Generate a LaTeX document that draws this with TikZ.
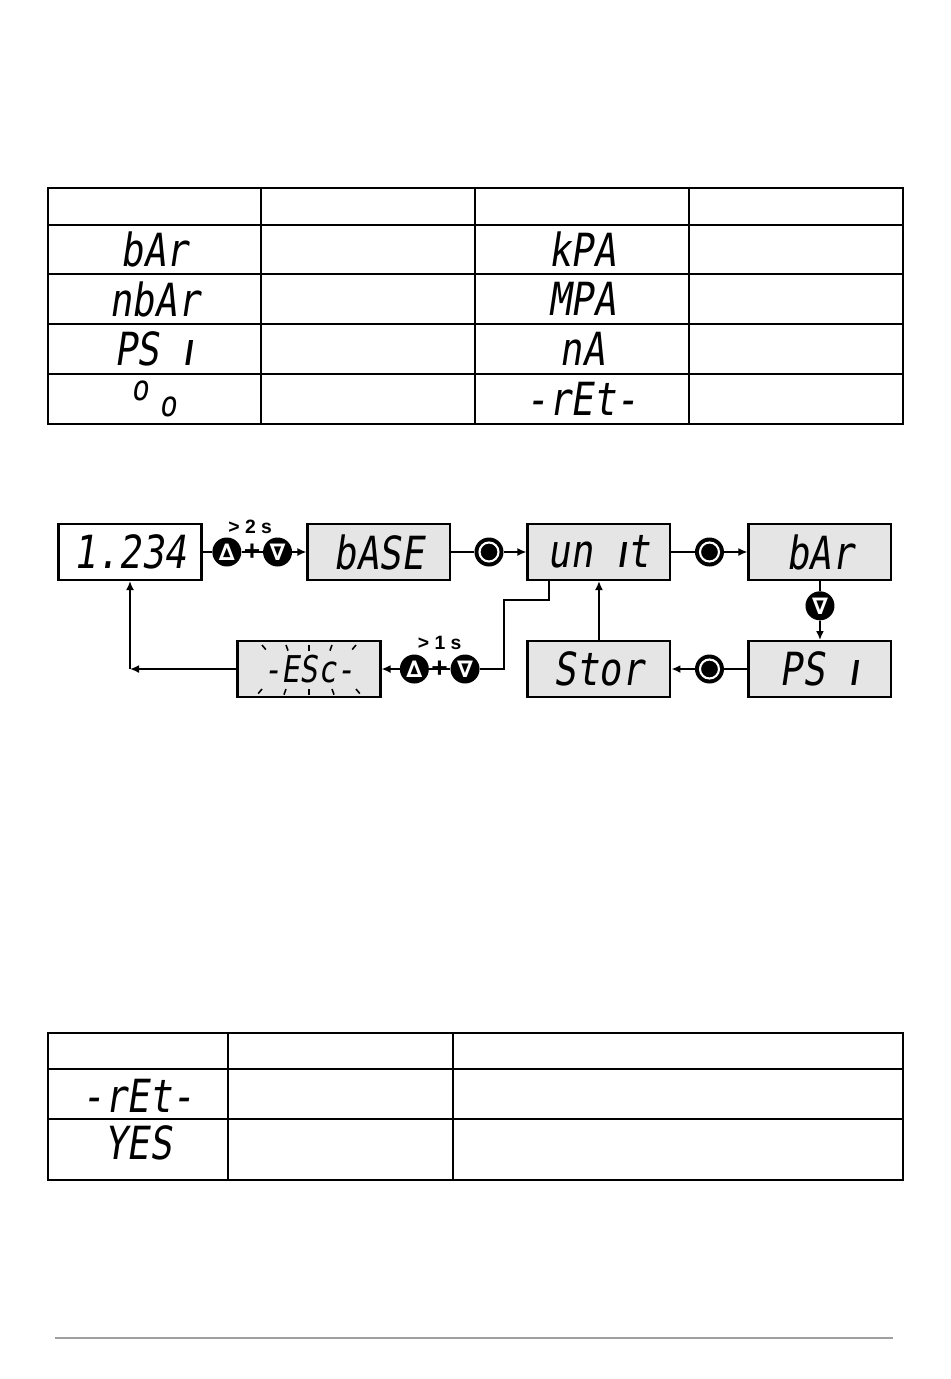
\documentclass[tikz,border=0pt]{standalone}
\usepackage{fontspec}
\usepackage{xcolor}
\usetikzlibrary{arrows.meta,calc,positioning}
\newfontfamily\segfont{DejaVu Sans Mono}[FakeStretch=0.82,FakeSlant=0.15]
\newfontfamily\segsans{DejaVu Sans}[FakeSlant=0.15]
\newfontfamily\labfont{Liberation Sans}
\newfontfamily\keyfont{DejaVu Sans}
\newcommand{\segi}{{\segsans ı}}
\definecolor{lcdgray}{RGB}{229,229,229}
\definecolor{rulegray}{RGB}{160,160,160}

\begin{document}
\begin{tikzpicture}[
      x=0.02cm, y=-0.02cm,
      lcd/.style={draw=black, line width=1.3pt, fill=lcdgray, minimum width=2.855cm, minimum height=1.115cm, inner sep=0pt, font=\segfont\fontsize{26}{28}\selectfont},
      seg/.style={inner sep=0pt, font=\segfont\fontsize{26}{28}\selectfont},
      btn/.style={circle, fill=black, minimum size=0.58cm, inner sep=0pt, text=white, font=\keyfont\bfseries\fontsize{13}{13}\selectfont},
      okbtn/.style={btn, path picture={\draw[white, line width=1.2pt] (path picture bounding box.center) circle (0.19cm);}},
      plus/.style={inner sep=0pt, font=\labfont\bfseries\fontsize{16}{16}\selectfont},
      holdlbl/.style={inner sep=0pt, font=\labfont\bfseries\fontsize{11}{11}\selectfont},
      arrow/.style={line width=1pt, -{Latex[length=1.8mm,width=1.6mm]}},
      link/.style={line width=1pt},
      tabline/.style={line width=0.9pt},
      ray/.style={line width=0.9pt}
      ]
      \useasboundingbox (0,0) rectangle (950,1379);

      % Unit table
      \draw[tabline] (48,188) rectangle (903,424);
      \foreach \x in {261,475,689} \draw[tabline] (\x,188) -- (\x,424);
      \foreach \y in {225,274,324,374} \draw[tabline] (48,\y) -- (903,\y);
      \node[seg] (ubar) at (154.5,249.5) {bAr};
      \node[seg] (umbar) at (154.5,299) {nbAr};
      \node[seg] (upsi) at (154.5,349) {PS \segi};
      \node[seg] (upct) at (154.5,399) {\fontsize{20}{20}\selectfont\raisebox{9pt}{o}\kern6pt o};
      \node[seg] (ukpa) at (582,249.5) {kPA};
      \node[seg] (umpa) at (582,299) {MPA};
      \node[seg] (uma) at (582,349) {nA};
      \node[seg] (uret) at (582,399) {-rEt-};

      % Nodes
      \node (disp) [lcd, fill=white] at (130,552) {1.234};
      \node (base) [lcd, right=2.08cm of disp] {bASE};
      \node (unit) [lcd, right=1.5cm of base] {un \segi t};
      \node (bar) [lcd, right=1.52cm of unit] {bAr};
      \node (psi) [lcd, below=1.18cm of bar] {PS \segi};
      \node (stor) [lcd, left=1.52cm of psi] {Stor};
      \node (esc) [lcd, left=2.9cm of stor, font=\segfont\fontsize{21}{23}\selectfont] {-ESc-};

      % Keys
      \node (up1) [btn, right=0.19cm of disp] {∆};
      \node (dn1) [btn, right=0.42cm of up1] {∇};
      \node (up2) [btn, right=0.36cm of esc] {∆};
      \node (dn3) [btn, right=0.42cm of up2] {∇};
      \node (ok1) [okbtn] at ($(base.east)!0.5!(unit.west)$) {};
      \node (ok2) [okbtn] at ($(unit.east)!0.5!(bar.west)$) {};
      \node (dn2) [btn] at ($(bar.south)!0.42!(psi.north)$) {∇};
      \node (ok3) [okbtn] at ($(psi.west)!0.5!(stor.east)$) {};
      \coordinate (back) at (disp.south |- esc.west);

      % Arrows
      \draw [link] (disp) -- (up1);
      \draw [link] (up1) -- (dn1);
      \node (plus1) [plus] at ($(up1)!0.5!(dn1)$) {+};
      \node (hold1) [holdlbl] at ($(plus1)+(-2,-25)$) {> 2 s};
      \draw [arrow] (dn1) -- (base);
      \draw [link] (base) -- (ok1);
      \draw [arrow] (ok1) -- (unit);
      \draw [link] (unit) -- (ok2);
      \draw [arrow] (ok2) -- (bar);
      \draw [link] (bar) -- (dn2);
      \draw [arrow] (dn2) -- (psi);
      \draw [link] (psi) -- (ok3);
      \draw [arrow] (ok3) -- (stor);
      \draw [arrow] (stor) -- (unit);
      \draw [link] ($(unit.south)+(-50,0)$) -- ++(0,19) -- ++(-45,0) |- (dn3);
      \draw [link] (dn3) -- (up2);
      \node (plus2) [plus] at ($(up2)!0.5!(dn3)$) {+};
      \node (hold2) [holdlbl] at ($(plus2)+(0,-26)$) {> 1 s};
      \draw [arrow] (up2) -- (esc);
      \draw [arrow] (esc) -- (back);
      \draw [arrow] (back) -- (disp.south |- back) -- (disp.south);

      % Blink rays
      \foreach \dx/\tilt in {-47/40,-23/20,0/0,23/-20,47/-40} {
        \draw[ray] ($(esc.center)+(\dx,-24)$) -- ++(90-\tilt:6);
        \draw[ray] ($(esc.center)+(\dx,20)$) -- ++(90+\tilt:6);
      }

      % Return table
      \draw[tabline] (48,1033) rectangle (903,1180);
      \foreach \x in {228,453} \draw[tabline] (\x,1033) -- (\x,1180);
      \foreach \y in {1069,1119} \draw[tabline] (48,\y) -- (903,\y);
      \node[seg] (rret) at (138,1096) {-rEt-};
      \node[seg] (ryes) at (138,1143) {YES};

      % Footer rule
      \draw[rulegray, line width=1.2pt] (55,1338) -- (893,1338);
    \end{tikzpicture}
\end{document}
